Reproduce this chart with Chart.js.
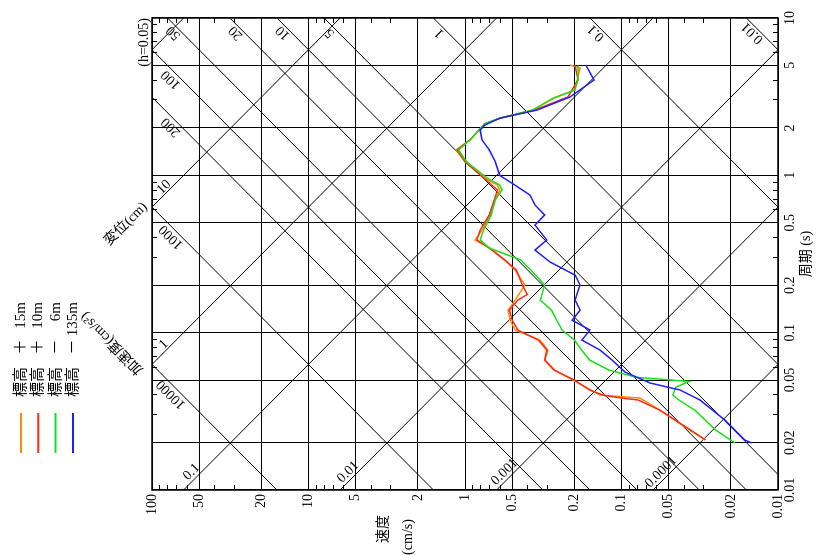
<!DOCTYPE html>
<html>
<head>
<meta charset="utf-8">
<script src="https://cdn.jsdelivr.net/npm/chart.js@4.4.1/dist/chart.umd.min.js"></script>
<style>
  html, body { margin: 0; padding: 0; background: #fff; overflow: hidden; }
  /* the chart is laid out upright, then turned a quarter turn to the left */
  #wrap { position: absolute; left: 0; top: 0; width: 555px; height: 818px;
          transform-origin: 0 0; transform: translate(0, 555px) rotate(-90deg); }
</style>
</head>
<body>
<div id="wrap"><canvas id="spectrum" width="555" height="818"></canvas></div>
<script>
// axis ticks
const periodTicks = [0.01, 0.02, 0.05, 0.1, 0.2, 0.5, 1, 2, 5, 10];
const velocityTicks = [100, 50, 20, 10, 5, 2, 1, 0.5, 0.2, 0.1, 0.05, 0.02, 0.01];
// tripartite guide lines
const accelLines = [0.01, 0.1, 1, 5, 10, 20, 50, 100, 200, 1000, 10000];
const dispLines = [0.0001, 0.001, 0.01, 0.1, 1, 10, 100];
const dispLabelled = [0.0001, 0.001, 0.01, 0.1, 1, 10];

const seriesNames = ['標高 ＋ 15m', '標高 ＋ 10m', '標高 － 6m', '標高 －135m'];
const seriesSigns = ['＋', '＋', '－', '－'];
const seriesHeights = ['15m', '10m', '6m', '135m'];

// period (s) / velocity (cm/s)
const periodOrange = [5.02, 4.81, 3.48, 3.10, 2.60, 2.31, 2.12, 1.68, 1.45, 1.22, 0.96, 0.867, 0.807, 0.697, 0.56, 0.449, 0.388, 0.345, 0.29, 0.25, 0.201, 0.161, 0.139, 0.12, 0.104, 0.0897, 0.0775, 0.067, 0.0578, 0.0401, 0.0384, 0.0322, 0.024, 0.0208];
const velOrange    = [0.213, 0.184, 0.198, 0.274, 0.368, 0.597, 0.745, 0.929, 1.14, 1.0, 0.745, 0.62, 0.60, 0.643, 0.692, 0.778, 0.863, 0.692, 0.555, 0.479, 0.414, 0.479, 0.531, 0.515, 0.479, 0.332, 0.295, 0.308, 0.266, 0.137, 0.0762, 0.0568, 0.0365, 0.0292];

const periodRed = [5.02, 4.04, 3.15, 2.60, 2.31, 2.12, 1.68, 1.45, 1.22, 0.96, 0.807, 0.697, 0.56, 0.449, 0.388, 0.345, 0.29, 0.25, 0.201, 0.175, 0.161, 0.139, 0.12, 0.104, 0.0897, 0.0775, 0.067, 0.0578, 0.05, 0.0432, 0.04, 0.0384, 0.0373, 0.0322, 0.024, 0.0208];
const velRed    = [0.198, 0.19, 0.22, 0.36, 0.60, 0.75, 0.93, 1.12, 1.0, 0.76, 0.62, 0.65, 0.70, 0.80, 0.84, 0.70, 0.56, 0.47, 0.43, 0.40, 0.46, 0.52, 0.50, 0.46, 0.34, 0.30, 0.31, 0.27, 0.20, 0.16, 0.13, 0.10, 0.078, 0.057, 0.036, 0.029];

const periodGreen = [5.0, 4.04, 3.48, 3.10, 2.60, 2.31, 2.12, 1.68, 1.45, 1.22, 0.96, 0.867, 0.81, 0.70, 0.56, 0.449, 0.388, 0.345, 0.29, 0.25, 0.201, 0.161, 0.139, 0.12, 0.104, 0.0897, 0.0775, 0.067, 0.0578, 0.052, 0.049, 0.045, 0.0401, 0.0373, 0.0322, 0.024, 0.0199];
const velGreen    = [0.19, 0.19, 0.20, 0.27, 0.37, 0.60, 0.75, 0.93, 1.1, 0.98, 0.72, 0.60, 0.58, 0.64, 0.68, 0.76, 0.80, 0.70, 0.44, 0.38, 0.31, 0.33, 0.28, 0.26, 0.24, 0.20, 0.18, 0.16, 0.12, 0.08, 0.037, 0.045, 0.047, 0.043, 0.034, 0.025, 0.0188];

const periodBlue = [5.02, 4.04, 3.15, 2.60, 2.31, 2.09, 1.94, 1.68, 1.45, 1.22, 1.0, 0.867, 0.75, 0.647, 0.56, 0.483, 0.388, 0.335, 0.281, 0.232, 0.201, 0.161, 0.139, 0.12, 0.104, 0.0897, 0.0775, 0.067, 0.0562, 0.0479, 0.0432, 0.0373, 0.0278, 0.0208, 0.0199];
const velBlue    = [0.169, 0.150, 0.213, 0.347, 0.597, 0.745, 0.80, 0.78, 0.70, 0.64, 0.60, 0.48, 0.385, 0.357, 0.31, 0.357, 0.30, 0.357, 0.286, 0.198, 0.184, 0.198, 0.184, 0.207, 0.159, 0.179, 0.137, 0.115, 0.0951, 0.0658, 0.0423, 0.0315, 0.0218, 0.0163, 0.0147];

const seriesColors = ['#ff8c00', '#ff2a1a', '#18e018', '#1e1eff'];

const T_MIN = 0.01, T_MAX = 10, V_MIN = 0.01, V_MAX = 100;
const TWO_PI = 2 * Math.PI;
const SERIF = "'Liberation Serif', 'Noto Sans CJK JP', serif";

function pairs(ts, vs) { return ts.map((t, i) => ({ x: t, y: vs[i] })); }

// constant acceleration: V = A T / 2π
function accelSegment(a) {
  const t1 = Math.max(T_MIN, TWO_PI * V_MIN / a);
  const t2 = Math.min(T_MAX, TWO_PI * V_MAX / a);
  return [{ x: t1, y: a * t1 / TWO_PI }, { x: t2, y: a * t2 / TWO_PI }];
}
// constant displacement: V = 2π D / T
function dispSegment(d) {
  const t1 = Math.max(T_MIN, TWO_PI * d / V_MAX);
  const t2 = Math.min(T_MAX, TWO_PI * d / V_MIN);
  return [{ x: t1, y: TWO_PI * d / t1 }, { x: t2, y: TWO_PI * d / t2 }];
}

const guide = data => ({ data, borderColor: '#000', borderWidth: 1, pointRadius: 0, order: 10 });

const datasets = [
  { label: seriesNames[0], data: pairs(periodOrange, velOrange), borderColor: seriesColors[0], order: 4 },
  { label: seriesNames[1], data: pairs(periodRed, velRed), borderColor: seriesColors[1], order: 3 },
  { label: seriesNames[2], data: pairs(periodGreen, velGreen), borderColor: seriesColors[2], order: 2 },
  { label: seriesNames[3], data: pairs(periodBlue, velBlue), borderColor: seriesColors[3], order: 1 },
].map(d => Object.assign(d, { borderWidth: 1.5, pointRadius: 0, tension: 0 }))
 .concat(accelLines.map(a => guide(accelSegment(a))))
 .concat(dispLines.map(d => guide(dispSegment(d))));

function fmt(v) { return String(Number(v.toPrecision(6))); }

const decor = {
  id: 'decor',
  afterDraw(chart) {
    const c = chart.ctx, area = chart.chartArea;
    const xs = chart.scales.x, ys = chart.scales.y;
    c.save();

    // minor ticks on all four sides
    c.strokeStyle = '#000';
    c.lineWidth = 1;
    const minor = [3, 4, 6, 7, 8, 9];
    for (let e = -2; e <= 0; e++) {
      for (const m of minor) {
        const px = Math.round(xs.getPixelForValue(m * Math.pow(10, e))) + 0.5;
        c.beginPath();
        c.moveTo(px, area.bottom); c.lineTo(px, area.bottom - 5);
        c.moveTo(px, area.top); c.lineTo(px, area.top + 5);
        c.stroke();
      }
    }
    for (let e = -2; e <= 1; e++) {
      for (const m of minor) {
        const py = Math.round(ys.getPixelForValue(m * Math.pow(10, e))) + 0.5;
        c.beginPath();
        c.moveTo(area.left, py); c.lineTo(area.left + 5, py);
        c.moveTo(area.right, py); c.lineTo(area.right - 5, py);
        c.stroke();
      }
    }

    // frame
    c.lineWidth = 1.5;
    c.strokeRect(area.left, area.top, area.right - area.left, area.bottom - area.top);

    // guide line labels
    c.fillStyle = '#000';
    c.font = '14px ' + SERIF;
    c.textAlign = 'center';
    c.textBaseline = 'middle';
    for (const a of accelLines) {
      const seg = accelSegment(a)[1];
      let px = xs.getPixelForValue(seg.x), py = ys.getPixelForValue(seg.y);
      if (seg.x >= T_MAX * 0.999) { px += -15; py += 6; } else { px += -30; py += 19; }
      c.save(); c.translate(px, py); c.rotate(-Math.PI / 4); c.fillText(fmt(a), 0, 0); c.restore();
    }
    for (const d of dispLabelled) {
      const seg = dispSegment(d)[0];
      let px = xs.getPixelForValue(seg.x), py = ys.getPixelForValue(seg.y);
      if (seg.x <= T_MIN * 1.001) { px += 18; py += 8; } else { px += 20; py += 12; }
      c.save(); c.translate(px, py); c.rotate(Math.PI / 4); c.fillText(fmt(d), 0, 0); c.restore();
    }

    // family names
    c.save(); c.translate(area.left + 266, area.top - 26); c.rotate(Math.PI / 4);
    c.fillText('変位(cm)', 0, 0); c.restore();
    c.save(); c.translate(area.left + 147, area.top - 40); c.rotate(-Math.PI / 4);
    c.fillText('加速度(cm/s²)', 0, 0); c.restore();

    // damping note
    c.textAlign = 'right';
    c.fillText('(h=0.05)', area.right, area.top - 8);

    // axis titles
    c.textAlign = 'center';
    c.fillText('周期 (s)', (area.left + area.right) / 2, area.bottom + 28);
    c.fillText('速度', 26, 383);
    c.fillText('(cm/s)', 18, 408);

    // legend
    c.font = '15px ' + SERIF;
    seriesColors.forEach((col, i) => {
      const y = 21 + 17.3 * i;
      c.strokeStyle = col; c.lineWidth = 2;
      c.beginPath(); c.moveTo(102, y); c.lineTo(142, y); c.stroke();
      c.textAlign = 'left'; c.fillText('標高', 158, y);
      c.textAlign = 'center'; c.fillText(seriesSigns[i], 208, y);
      c.textAlign = 'right'; c.fillText(seriesHeights[i], 253, y);
    });
    c.restore();
  }
};

new Chart(document.getElementById('spectrum'), {
  type: 'line',
  data: { datasets },
  plugins: [decor],
  options: {
    responsive: false,
    devicePixelRatio: 1,
    animation: false,
    layout: { padding: { left: 0, right: 18, top: 152, bottom: 10 } },
    plugins: { legend: { display: false }, tooltip: { enabled: false } },
    scales: {
      x: {
        type: 'logarithmic', min: T_MIN, max: T_MAX,
        afterBuildTicks: s => { s.ticks = periodTicks.map(v => ({ value: v })); },
        afterFit: s => { s.height = 30; },
        grid: { color: '#000', lineWidth: 1, drawTicks: false },
        border: { display: false },
        ticks: { autoSkip: false, maxRotation: 0, padding: 4, color: '#000',
                 font: { family: SERIF, size: 14 }, callback: v => fmt(v) }
      },
      y: {
        type: 'logarithmic', min: V_MIN, max: V_MAX,
        afterBuildTicks: s => { s.ticks = velocityTicks.map(v => ({ value: v })); },
        afterFit: s => { s.width = 65; },
        grid: { color: '#000', lineWidth: 1, drawTicks: false },
        border: { display: false },
        ticks: { autoSkip: false, padding: 4, color: '#000',
                 font: { family: SERIF, size: 14 }, callback: v => fmt(v) }
      }
    }
  }
});
</script>
</body>
</html>
